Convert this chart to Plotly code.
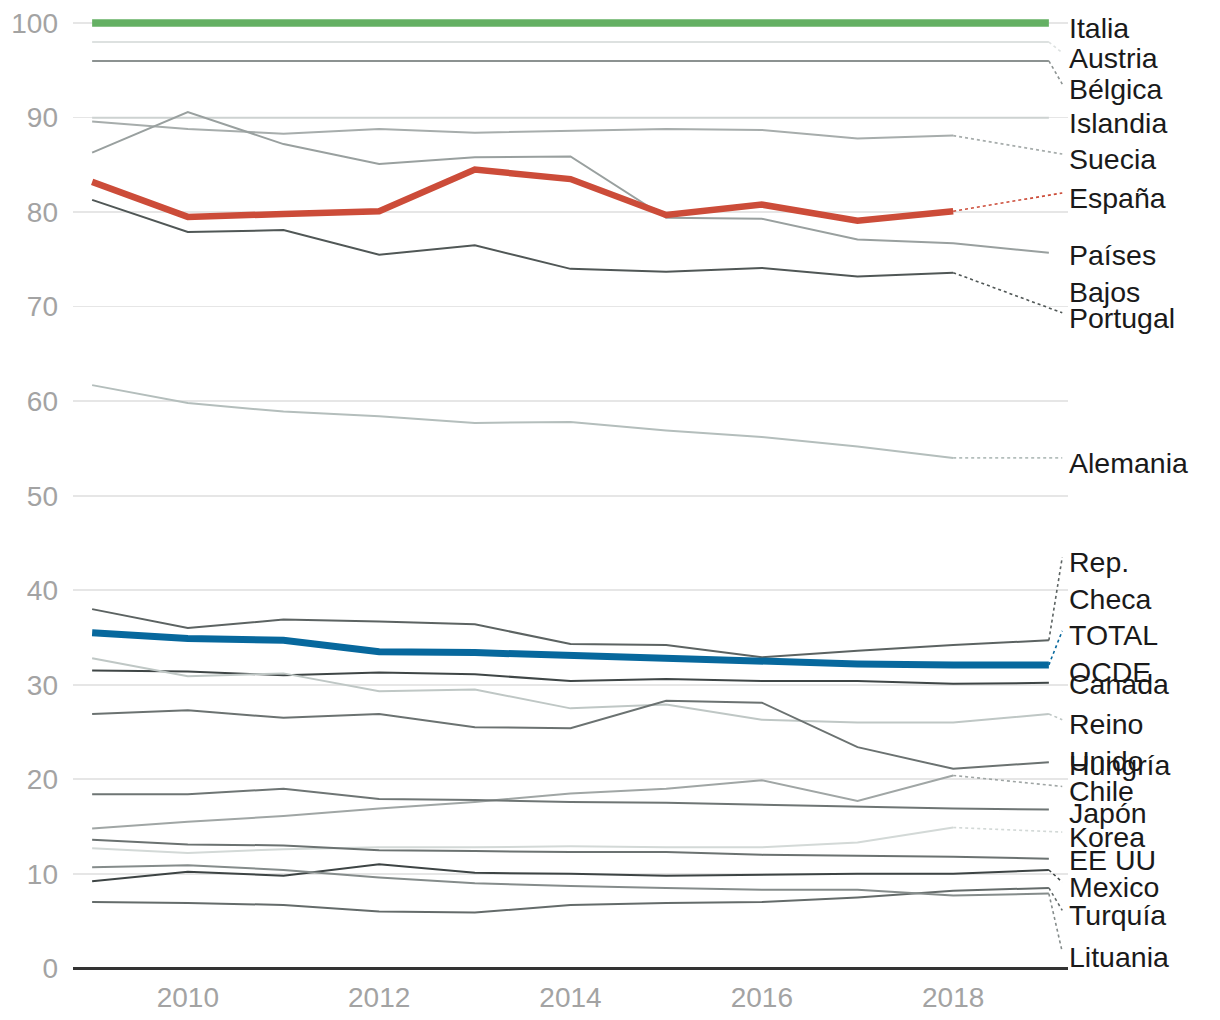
import plotly.graph_objects as go

years = [2009, 2010, 2011, 2012, 2013, 2014, 2015, 2016, 2017, 2018, 2019]

italia = [100, 100, 100, 100, 100, 100, 100, 100, 100, 100, 100]
austria = [98, 98, 98, 98, 98, 98, 98, 98, 98, 98, 98]
belgica = [96, 96, 96, 96, 96, 96, 96, 96, 96, 96, 96]
islandia = [90, 90, 90, 90, 90, 90, 90, 90, 90, 90, 90]
suecia = [89.6, 88.8, 88.3, 88.8, 88.4, 88.6, 88.8, 88.7, 87.8, 88.1, None]
paises_bajos = [86.3, 90.6, 87.2, 85.1, 85.8, 85.9, 79.4, 79.3, 77.1, 76.7, 75.7]
espana = [83.2, 79.5, 79.8, 80.1, 84.5, 83.5, 79.7, 80.8, 79.1, 80.1, None]
portugal = [81.3, 77.9, 78.1, 75.5, 76.5, 74.0, 73.7, 74.1, 73.2, 73.6, None]
alemania = [61.7, 59.8, 58.9, 58.4, 57.7, 57.8, 56.9, 56.2, 55.2, 54.0, None]
rep_checa = [38.0, 36.0, 36.9, 36.7, 36.4, 34.3, 34.2, 32.9, 33.6, 34.2, 34.7]
total_ocde = [35.5, 34.9, 34.7, 33.5, 33.4, 33.1, 32.8, 32.4, 32.2, 32.1, 32.1]
canada = [31.5, 31.4, 31.0, 31.3, 31.1, 30.4, 30.6, 30.4, 30.4, 30.1, 30.2]
reino_unido = [32.8, 30.9, 31.2, 29.3, 29.5, 27.5, 27.9, 26.3, 26.0, 26.0, 26.9]
hungria = [26.9, 27.3, 26.5, 26.9, 25.5, 25.4, 28.3, 28.1, 23.4, 21.1, 21.8]
japon = [18.4, 18.4, 19.0, 17.9, 17.8, 17.6, 17.5, 17.3, 17.1, 16.9, 16.8]
chile = [14.8, 15.5, 16.1, 16.9, 17.6, 18.5, 19.0, 19.9, 17.7, 20.4, None]
ee_uu = [13.6, 13.1, 13.0, 12.5, 12.4, 12.3, 12.3, 12.0, 11.9, 11.8, 11.6]
korea = [12.7, 12.2, 12.6, 12.8, 12.8, 12.9, 12.8, 12.8, 13.3, 14.9, None]
mexico = [9.2, 10.2, 9.8, 11.0, 10.1, 10.0, 9.8, 9.9, 10.0, 10.0, 10.4]
lituania = [10.7, 10.9, 10.4, 9.6, 9.0, 8.7, 8.5, 8.3, 8.3, 7.7, 7.9]
turquia = [7.0, 6.9, 6.7, 6.0, 5.9, 6.7, 6.9, 7.0, 7.5, 8.2, 8.5]

x_ticks = [2010, 2012, 2014, 2016, 2018]
y_ticks = [0, 10, 20, 30, 40, 50, 60, 70, 80, 90, 100]

# (label, values, colour, width, label position in data units)
series = [
    ("Austria", austria, "#dde1e0", 2, 96.86),
    ("Bélgica", belgica, "#8c9291", 2, 93.55),
    ("Islandia", islandia, "#cdd2d1", 2, 89.96),
    ("Suecia", suecia, "#a7adac", 2, 86.15),
    ("Países<br>Bajos", paises_bajos, "#99a09f", 2, 75.9),
    ("Portugal", portugal, "#505756", 2, 69.35),
    ("Alemania", alemania, "#b4bebc", 2, 54.0),
    ("Rep.<br>Checa", rep_checa, "#5c6362", 2, 43.5),
    ("Canada", canada, "#3f4646", 2, 30.6),
    ("Reino<br>Unido", reino_unido, "#bfc7c5", 2, 26.3),
    ("Hungría", hungria, "#6b7271", 2, 22.04),
    ("Chile", chile, "#a0a6a5", 2, 19.24),
    ("Japón", japon, "#6e7574", 2, 16.97),
    ("Korea", korea, "#d3d9d7", 2, 14.41),
    ("EE UU", ee_uu, "#6b7271", 2, 12.0),
    ("Mexico", mexico, "#3d4444", 2, 9.12),
    ("Turquía", turquia, "#646b6a", 2, 6.13),
    ("Lituania", lituania, "#858c8b", 2, 1.72),
    ("TOTAL<br>OCDE", total_ocde, "#07689d", 7, 35.7),
    ("España", espana, "#cc4c39", 6.5, 82.03),
    ("Italia", italia, "#64b063", 7.5, 100.0),
]

CONNECTOR_X = 2019.14
LABEL_X = 2019.2
FONT = "Liberation Sans, Arial, sans-serif"

fig = go.Figure()
annotations = []

for name, vals, color, width, ly in series:
    fig.add_trace(go.Scatter(
        x=years, y=vals, mode="lines",
        line=dict(color=color, width=width),
        hoverinfo="skip", showlegend=False,
    ))
    idx = max(i for i, v in enumerate(vals) if v is not None)
    lx, lv = years[idx], vals[idx]
    if lx != years[-1] or abs(lv - ly) > 0.5:
        fig.add_trace(go.Scatter(
            x=[lx, CONNECTOR_X], y=[lv, ly], mode="lines",
            line=dict(color=color, width=1.6, dash="3px,3px"),
            hoverinfo="skip", showlegend=False,
        ))
    two_lines = "<br>" in name
    annotations.append(dict(
        x=LABEL_X, y=ly, xref="x", yref="y",
        text=name, showarrow=False,
        xanchor="left", yanchor="middle",
        xshift=-1, yshift=(-23 if two_lines else -5),
        align="left",
        font=dict(family=FONT, size=28.5, color="#1a1a1a"),
    ))

fig.update_layout(
    width=1220, height=1020,
    margin=dict(l=73, r=152, t=8, b=47, autoexpand=False),
    paper_bgcolor="white", plot_bgcolor="white",
    annotations=annotations,
    hovermode=False,
    xaxis=dict(
        range=[2008.8, 2019.2], tickvals=x_ticks,
        ticktext=[str(t) for t in x_ticks],
        showgrid=False, zeroline=False, showline=False, ticks="",
        ticklabelstandoff=5,
        tickfont=dict(family=FONT, size=28, color="#a3a3a3"),
    ),
    yaxis=dict(
        range=[-0.5, 101.6], tickvals=y_ticks,
        ticktext=[str(t) for t in y_ticks],
        showgrid=True, gridcolor="#e6e6e6", gridwidth=1.6,
        zeroline=True, zerolinecolor="#333333", zerolinewidth=2.5,
        showline=False, ticks="", ticklabelstandoff=14,
        tickfont=dict(family=FONT, size=28, color="#a3a3a3"),
    ),
)

fig.write_html(
    "out.html",
    config={"displayModeBar": False, "staticPlot": True},
    post_script="document.body.style.margin='0';",
)
